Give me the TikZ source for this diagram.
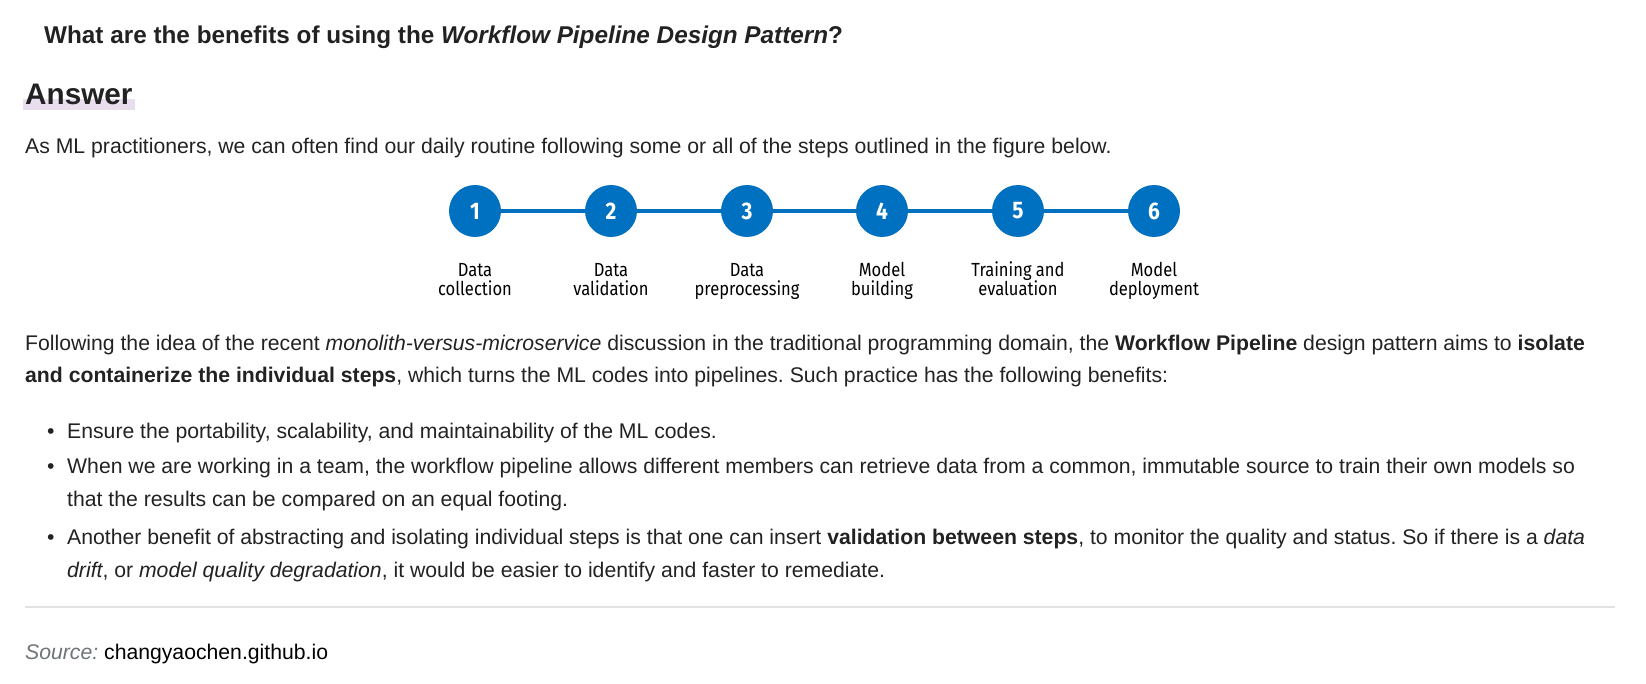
\documentclass[tikz,border=0pt]{standalone}
\usepackage{fontspec}
\setmainfont{Liberation Sans}
\newfontfamily\stepfont[FakeStretch=0.87]{Fira Sans}
\usetikzlibrary{positioning}
\definecolor{pipeblue}{RGB}{0,112,192}
\definecolor{bodytext}{RGB}{34,34,34}
\definecolor{answermark}{RGB}{233,222,237}
\definecolor{rulegray}{RGB}{226,226,226}
\definecolor{sourcegray}{RGB}{110,116,122}
\frenchspacing

\begin{document}
\begin{tikzpicture}[
  x=1pt, y=-1pt,
  bodyline/.style={anchor=base west, inner sep=0pt, text=bodytext, font=\fontsize{21.2}{25}\selectfont},
  titleline/.style={anchor=base west, inner sep=0pt, text=bodytext, font=\fontsize{24.3}{28}\selectfont\bfseries},
  headline/.style={anchor=base west, inner sep=0pt, text=bodytext, font=\fontsize{29.7}{34}\selectfont\bfseries},
  stepdot/.style={circle, fill=pipeblue, minimum size=52pt, inner sep=0pt, text=white, font=\stepfont\fontsize{24}{24}\selectfont\bfseries},
  steplabel/.style={inner sep=0pt, align=center, text=black, font=\stepfont\fontsize{19}{19}\selectfont},
  pipeline/.style={pipeblue, line width=4pt},
]
  \useasboundingbox (0,0) rectangle (1646,684);

  % Question and heading
  \node[titleline] (question) at (44,44) {What are the benefits of using the \textit{Workflow Pipeline Design Pattern}?};
  \fill[answermark] (23,99) rectangle (135,110);
  \node[headline] (answer) at (25,105) {Answer};
  \node[bodyline] (intro) at (25,154) {As ML practitioners, we can often find our daily routine following some or all of the steps outlined in the figure below.};

  % Pipeline steps
  \node[stepdot] (s1) at (475,211) {1};
  \node[stepdot] (s2) at (611,211) {2};
  \node[stepdot] (s3) at (747,211) {3};
  \node[stepdot] (s4) at (882,211) {4};
  \node[stepdot] (s5) at (1018,211) {5};
  \node[stepdot] (s6) at (1154,211) {6};

  \draw[pipeline] (s1) -- (s2);
  \draw[pipeline] (s2) -- (s3);
  \draw[pipeline] (s3) -- (s4);
  \draw[pipeline] (s4) -- (s5);
  \draw[pipeline] (s5) -- (s6);

  % Step labels, baselines aligned
  \node[steplabel, below=58pt of s1, anchor=base] (l1) {Data\\collection};
  \node[steplabel, below=58pt of s2, anchor=base] (l2) {Data\\validation};
  \node[steplabel, below=58pt of s3, anchor=base] (l3) {Data\\preprocessing};
  \node[steplabel, below=58pt of s4, anchor=base] (l4) {Model\\building};
  \node[steplabel, below=58pt of s5, anchor=base] (l5) {Training and\\evaluation};
  \node[steplabel, below=58pt of s6, anchor=base] (l6) {Model\\deployment};

  % Paragraph
  \node[bodyline] (para1) at (25,351) {Following the idea of the recent \textit{monolith-versus-microservice} discussion in the traditional programming domain, the \textbf{Workflow Pipeline} design pattern aims to \textbf{isolate}};
  \node[bodyline] (para2) at (25,382) {\textbf{and containerize the individual steps}, which turns the ML codes into pipelines. Such practice has the following benefits:};

  % Benefits list
  \node[bodyline] (b1) at (47,438) {\textbullet};
  \node[bodyline] (item1) at (67,438) {Ensure the portability, scalability, and maintainability of the ML codes.};
  \node[bodyline] (b2) at (47,473.5) {\textbullet};
  \node[bodyline] (item2a) at (67,473.5) {When we are working in a team, the workflow pipeline allows different members can retrieve data from a common, immutable source to train their own models so};
  \node[bodyline] (item2b) at (67,506) {that the results can be compared on an equal footing.};
  \node[bodyline] (b3) at (47,544) {\textbullet};
  \node[bodyline] (item3a) at (67,544) {Another benefit of abstracting and isolating individual steps is that one can insert \textbf{validation between steps}, to monitor the quality and status. So if there is a \textit{data}};
  \node[bodyline] (item3b) at (67,577) {\textit{drift}, or \textit{model quality degradation}, it would be easier to identify and faster to remediate.};

  % Footer
  \draw[rulegray, line width=2pt] (25,607) -- (1615,607);
  \node[bodyline] (source) at (25,659) {\textcolor{sourcegray}{\textit{Source:}} \textcolor{black}{changyaochen.github.io}};
\end{tikzpicture}
\end{document}
